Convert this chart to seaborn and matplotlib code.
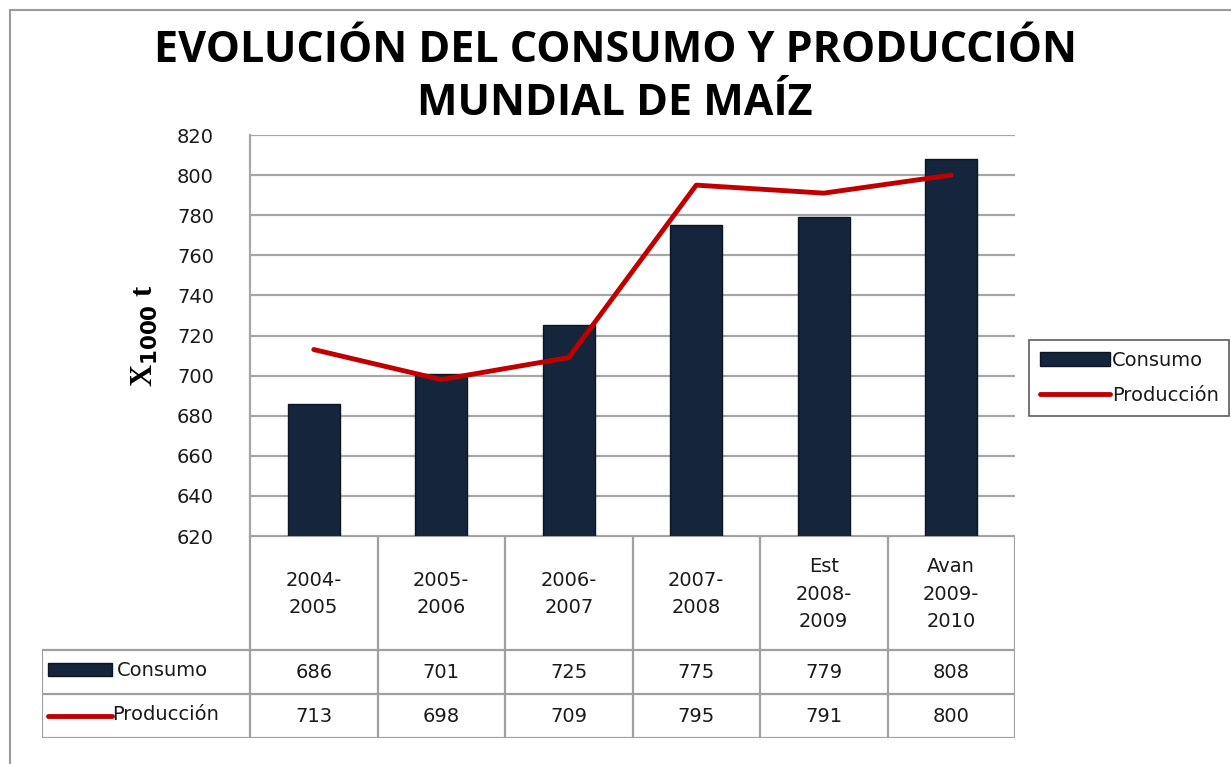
import matplotlib
matplotlib.use("Agg")
import matplotlib.pyplot as plt
import seaborn as sns
import pandas as pd
from matplotlib.patches import Rectangle
from matplotlib.lines import Line2D
from matplotlib import font_manager

categories = ["2004-\n2005", "2005-\n2006", "2006-\n2007", "2007-\n2008", "Est\n2008-\n2009", "Avan\n2009-\n2010"]
consumo = [686, 701, 725, 775, 779, 808]
produccion = [713, 698, 709, 795, 791, 800]
series_names = ["Consumo", "Producción"]
title = "EVOLUCIÓN DEL CONSUMO Y PRODUCCIÓN\nMUNDIAL DE MAÍZ"
ylabel = "X$_{\\mathbf{1000}}$ t"
yticks = list(range(620, 821, 20))

sns.set_theme(style="white")
names = {f.name for f in font_manager.fontManager.ttflist}
body_font = "DejaVu Sans"
title_font = "Open Sans" if "Open Sans" in names else "DejaVu Sans"
plt.rcParams["font.family"] = [body_font]
plt.rcParams["text.color"] = "#1a1a1a"
plt.rcParams["ytick.color"] = "#1a1a1a"

W, H = 1231, 764
fig = plt.figure(figsize=(W / 100, H / 100), dpi=100)
fig.patch.set_facecolor("white")

def fx(px):
    return px / W

def fy(py):
    return 1 - py / H

# outer frame
fig.add_artist(Rectangle((fx(10), fy(800)), 1.2, fy(10) - fy(800), transform=fig.transFigure,
                         fill=False, edgecolor="#9a9a9a", linewidth=1.5))

L, R, T, B = 250, 1015, 135, 536
ax = fig.add_axes([fx(L), fy(B), fx(R) - fx(L), fy(T) - fy(B)])
df = pd.DataFrame({"cat": categories, "Consumo": consumo, "Producción": produccion})
bar_color = "#15253c"
sns.barplot(data=df, x="cat", y="Consumo", ax=ax, color=bar_color, width=0.41,
            edgecolor="#0b1524", linewidth=1, saturation=1)
xs = list(range(len(categories)))
sns.lineplot(x=xs, y=produccion, ax=ax, color="#c00000", linewidth=3.5, sort=False)
ax.set_ylim(620, 820)
ax.set_xlim(-0.5, len(categories) - 0.5)
ax.set_yticks(yticks)
ax.set_yticklabels([str(v) for v in yticks], fontsize=14)
ax.tick_params(axis="y", length=0, pad=26)
ax.set_xticks([])
ax.set_xlabel("")
ax.set_ylabel("")
ax.yaxis.grid(True, color="#a6a6a6", linewidth=1.6)
ax.set_axisbelow(True)
for s in ["top", "right", "bottom"]:
    ax.spines[s].set_visible(False)
ax.spines["left"].set_color("#a6a6a6")
ax.spines["left"].set_linewidth(1.6)

fig.text(fx(145), fy(336), ylabel, rotation=90, ha="center", va="center",
         fontsize=22, fontweight="bold", family=["Liberation Serif", "DejaVu Serif"], color="black")

fig.text(fx(615), fy(77), title, ha="center", va="center", fontsize=31, fontweight="bold",
         family=[title_font, "DejaVu Sans"], linespacing=1.3, color="black")

# table
tax = fig.add_axes([fx(42), fy(738), fx(R) - fx(42), fy(B) - fy(738)])
tax.set_axis_off()
col_w = (R - L)
units_left = (L - 42) / (col_w / len(categories))
tax.set_xlim(-0.5 - units_left, len(categories) - 0.5)
tax.set_ylim(738, 536)
gc = "#a0a0a0"
lw = 1.6
x0 = -0.5 - units_left
tax.plot([-0.5, len(categories) - 0.5], [536, 536], color=gc, lw=lw)
for y in [650, 694, 738]:
    tax.plot([x0, len(categories) - 0.5], [y, y], color=gc, lw=lw)
tax.plot([x0, x0], [650, 738], color=gc, lw=lw)
for i in range(len(categories) + 1):
    tax.plot([i - 0.5, i - 0.5], [536, 738], color=gc, lw=lw)
for i, c in enumerate(categories):
    tax.text(i, 594, c, ha="center", va="center", fontsize=14, linespacing=1.55)
    tax.text(i, 673, str(consumo[i]), ha="center", va="center", fontsize=14)
    tax.text(i, 716, str(produccion[i]), ha="center", va="center", fontsize=14)
# row labels with keys
kx0 = x0 + 0.05
kx1 = x0 + 0.55
tax.add_patch(Rectangle((kx0, 663), kx1 - kx0, 13, facecolor=bar_color, edgecolor="#0b1524"))
tax.plot([kx0, kx1], [716, 716], color="#c00000", lw=3.5, solid_capstyle="round")
tax.text(kx1 + 0.04, 671, series_names[0], ha="left", va="center", fontsize=14)
tax.text(kx1 + 0.0, 715, series_names[1], ha="left", va="center", fontsize=14)

# legend
handles = [Rectangle((0, 0), 1, 1, facecolor=bar_color, edgecolor="#0b1524"),
           Line2D([0], [0], color="#c00000", lw=3.5)]
leg = fig.legend(handles, series_names, loc="upper left",
                 bbox_to_anchor=(fx(1029), fy(340)), frameon=True, fancybox=False,
                 fontsize=14, handlelength=3.6, handletextpad=0.1, labelspacing=0.85,
                 borderpad=0.55, borderaxespad=0)
leg.get_frame().set_edgecolor("#333333")
leg.get_frame().set_linewidth(1.2)

fig.savefig("out.png", dpi=100)
